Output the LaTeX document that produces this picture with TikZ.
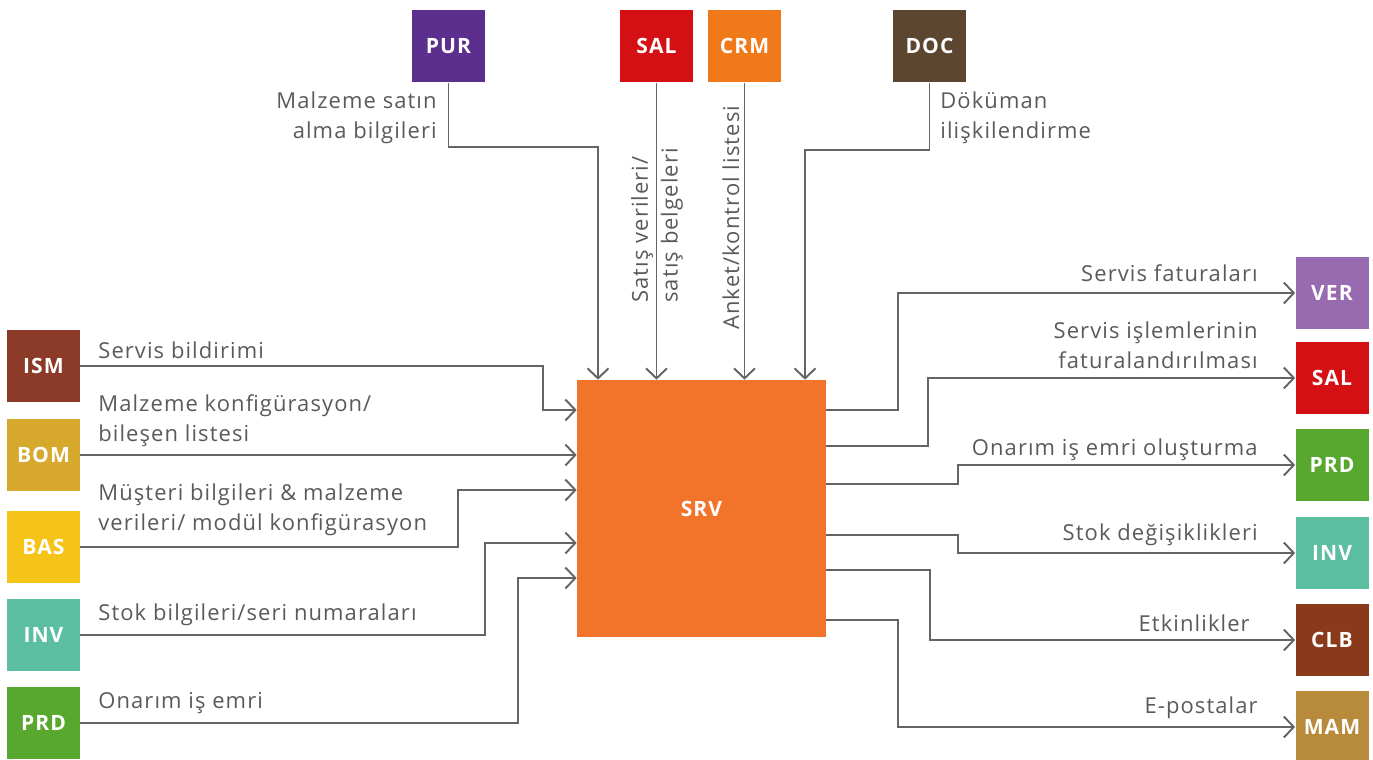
\documentclass[tikz,border=0pt]{standalone}
\usepackage{fontspec}
\setmainfont{Open Sans}[LetterSpace=5]
\usepackage{xcolor}
\usepackage{tikz}
\usetikzlibrary{positioning,arrows.meta}

\definecolor{cism}{RGB}{140,58,40}
\definecolor{cbom}{RGB}{214,168,44}
\definecolor{cbas}{RGB}{246,196,24}
\definecolor{cinv}{RGB}{92,190,160}
\definecolor{cprd}{RGB}{88,168,48}
\definecolor{cpur}{RGB}{92,46,142}
\definecolor{csal}{RGB}{212,16,20}
\definecolor{ccrm}{RGB}{240,122,26}
\definecolor{cdoc}{RGB}{92,70,48}
\definecolor{cver}{RGB}{152,106,176}
\definecolor{cclb}{RGB}{138,58,26}
\definecolor{cmam}{RGB}{184,138,60}
\definecolor{csrv}{RGB}{242,115,42}
\definecolor{cline}{RGB}{100,100,100}
\definecolor{ctext}{RGB}{90,90,90}

\begin{document}
\begin{tikzpicture}[x=0.02cm, y=-0.02cm,
  >={Straight Barb[length=2mm,width=4.2mm]},
  box/.style={minimum width=1.46cm, minimum height=1.46cm, inner sep=0pt,
    text=white, font=\fontsize{12}{14}\selectfont\bfseries},
  lbl/.style={inner sep=0pt, text=ctext, font=\fontsize{12.5}{17}\selectfont},
  flow/.style={->, draw=cline, line width=1.1pt}]
\useasboundingbox (0,0) rectangle (1373,760);
% central module
\node[fill=csrv, minimum width=4.98cm, minimum height=5.14cm, text=white,
  font=\fontsize{12}{14}\selectfont\bfseries] (srv) at (701.5,508.5) {SRV};
% sources on the left
\node[box, fill=cism] (ism) at (43.5,366) {ISM};
\node[box, fill=cbom] (bom) at (43.5,455) {BOM};
\node[box, fill=cbas] (bas) at (43.5,547) {BAS};
\node[box, fill=cinv] (inv) at (43.5,635) {INV};
\node[box, fill=cprd] (prd) at (43.5,723) {PRD};
% sources on top
\node[box, fill=cpur] (pur) at (448.5,46) {PUR};
\node[box, fill=csal] (sal) at (656.5,46) {SAL};
\node[box, fill=ccrm] (crm) at (744.5,46) {CRM};
\node[box, fill=cdoc] (doc) at (929.5,46) {DOC};
% targets on the right
\node[box, fill=cver] (ver) at (1332,293) {VER};
\node[box, fill=csal] (salout) at (1332,378) {SAL};
\node[box, fill=cprd] (prdout) at (1332,465) {PRD};
\node[box, fill=cinv] (invout) at (1332,553) {INV};
\node[box, fill=cclb] (clb) at (1332,640) {CLB};
\node[box, fill=cmam] (mam) at (1332,727) {MAM};

% labels
\node[lbl, anchor=west] (lism) at (98,350) {Servis bildirimi};
\node[lbl, anchor=west, align=left] (lbom) at (98,421) {Malzeme konfigürasyon/\\bileşen listesi};
\node[lbl, anchor=west, align=left] (lbas) at (98,510) {Müşteri bilgileri \& malzeme\\verileri/ modül konfigürasyon};
\node[lbl, anchor=west] (linv) at (98,615) {Stok bilgileri/seri numaraları};
\node[lbl, anchor=west] (lprd) at (98,703) {Onarım iş emri};
\node[lbl, anchor=east, align=right] (lpur) at (437,118) {Malzeme satın\\alma bilgileri};
\node[lbl, anchor=west, align=left, rotate=90] (lsal) at (657,303) {Satış verileri/\\satış belgeleri};
\node[lbl, anchor=west, rotate=90] (lcrm) at (731,330) {Anket/kontrol listesi};
\node[lbl, anchor=west, align=left] (ldoc) at (940,118) {Döküman\\ilişkilendirme};
\node[lbl, anchor=east] (lver) at (1258,273) {Servis faturaları};
\node[lbl, anchor=east, align=right] (lsalout) at (1258,345) {Servis işlemlerinin\\faturalandırılması};
\node[lbl, anchor=east] (lprdout) at (1258,450) {Onarım iş emri oluşturma};
\node[lbl, anchor=east] (linvout) at (1258,535) {Stok değişiklikleri};
\node[lbl, anchor=east] (lclb) at (1250,623) {Etkinlikler};
\node[lbl, anchor=east] (lmam) at (1258,708) {E-postalar};

% incoming flows
\draw[flow] (ism.east) -| (543,410) -- (srv.west |- 0,410);
\draw[flow] (bom.east) -- (srv.west |- bom.east);
\draw[flow] (bas.east) -| (458,490) -- (srv.west |- 0,490);
\draw[flow] (inv.east) -| (485,543) -- (srv.west |- 0,543);
\draw[flow] (prd.east) -| (518,578) -- (srv.west |- 0,578);
\draw[flow] (pur.south) |- (598,147) -- (srv.north -| 598,0);
\draw[flow] (sal.south) -- (srv.north -| sal.south);
\draw[flow] (crm.south) -- (srv.north -| crm.south);
\draw[flow] (doc.south) |- (805,150) -- (srv.north -| 805,0);
% outgoing flows
\draw[flow] (srv.east |- 0,410) -| (898,293) -- (ver.west);
\draw[flow] (srv.east |- 0,446) -| (928,378) -- (salout.west);
\draw[flow] (srv.east |- 0,484) -| (958,465) -- (prdout.west);
\draw[flow] (srv.east |- 0,535) -| (958,553) -- (invout.west);
\draw[flow] (srv.east |- 0,570) -| (930,640) -- (clb.west);
\draw[flow] (srv.east |- 0,620) -| (898,727) -- (mam.west);
\end{tikzpicture}
\end{document}
